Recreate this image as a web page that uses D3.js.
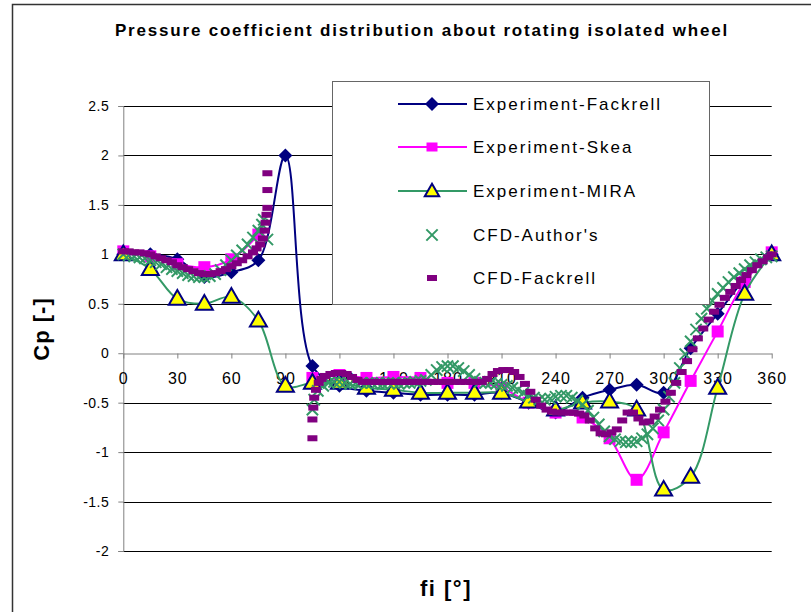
<!DOCTYPE html>
<html><head><meta charset="utf-8">
<script src="https://cdn.jsdelivr.net/npm/d3@7"></script>
<style>body{margin:0;background:#fff;} svg{display:block;font-family:"Liberation Sans",Arial,sans-serif;}</style>
</head><body>
<script>
const titleText = "Pressure coefficient distribution about rotating isolated wheel";
const xTitle = "fi [°]";
const yTitle = "Cp [-]";
const xTicks = [0,30,60,90,120,150,180,210,240,270,300,330,360];
const yTicks = [-2,-1.5,-1,-0.5,0,0.5,1,1.5,2,2.5];

const expAngles = [0,15,30,45,60,75,90,105,120,135,150,165,180,195,210,225,240,255,270,285,300,315,330,345,360];
const expFackrell = [1.0,1.0,0.95,0.77,0.82,0.94,2.0,-0.13,-0.33,-0.38,-0.4,-0.42,-0.42,-0.42,-0.4,-0.5,-0.6,-0.45,-0.37,-0.32,-0.4,0.05,0.4,0.75,1.0];
const expSkea = [1.03,0.98,0.9,0.87,0.95,1.2,null,-0.25,-0.22,-0.25,-0.24,-0.25,-0.3,-0.3,-0.35,-0.5,-0.6,-0.65,-0.86,-1.28,-0.8,-0.28,0.22,0.72,1.02];
const expMIRA = [1.0,0.85,0.55,0.5,0.57,0.33,-0.33,-0.3,-0.3,-0.35,-0.37,-0.4,-0.4,-0.4,-0.4,-0.49,-0.57,-0.5,-0.49,-0.57,-1.38,-1.25,-0.35,0.6,1.0];

const cfdAuthorAngles = [0,3,6,9,12,15,18,21,24,27,30,33,36,39,42,45,48,51,54,57,60,63,66,69,72,75,77,78,80,
 105,106,108,111,114,117,120,123,126,129,132,135,138,141,144,147,150,153,156,159,162,165,168,171,174,177,180,183,186,189,192,195,198,201,204,207,210,213,216,219,222,225,228,231,234,237,240,243,246,249,252,255,258,261,264,267,270,273,276,279,282,285,288,291,294,297,300,303,306,309,312,315,318,321,324,327,330,333,336,339,342,345,348,351,354,357,360];
const cfdAuthor = [1.0,0.99,0.98,0.97,0.96,0.94,0.92,0.9,0.87,0.85,0.83,0.81,0.79,0.78,0.77,0.77,0.78,0.8,0.84,0.89,0.94,0.99,1.04,1.1,1.17,1.24,1.3,1.35,1.15,
 -0.57,-0.47,-0.38,-0.33,-0.3,-0.29,-0.29,-0.3,-0.31,-0.3,-0.3,-0.31,-0.3,-0.3,-0.31,-0.3,-0.3,-0.31,-0.3,-0.3,-0.29,-0.28,-0.27,-0.22,-0.17,-0.14,-0.13,-0.13,-0.15,-0.18,-0.22,-0.26,-0.29,-0.3,-0.3,-0.31,-0.32,-0.33,-0.35,-0.37,-0.4,-0.43,-0.45,-0.47,-0.47,-0.46,-0.44,-0.43,-0.43,-0.45,-0.48,-0.52,-0.58,-0.65,-0.72,-0.79,-0.84,-0.87,-0.89,-0.9,-0.9,-0.89,-0.86,-0.82,-0.76,-0.68,-0.57,-0.44,-0.3,-0.15,-0.01,0.12,0.24,0.35,0.45,0.53,0.6,0.66,0.72,0.77,0.81,0.85,0.89,0.92,0.95,0.97,0.98];

const cfdFackrellAngles = [0,3,6,9,12,15,18,21,24,27,30,33,36,39,42,45,48,51,54,57,60,63,66,69,72,74,76,77.5,78.5,79,79.5,80,80,80,
 105,105,105.5,106,107,108.5,110,112,115,118,121,124,127,130,133,136,139,142,145,148,151,154,157,160,163,166,169,172,175,178,181,184,187,190,193,196,199,202,205,208,211,214,217,220,223,226,229,232,235,238,241,244,247,250,253,256,259,262,265,268,271,274,277,280,283,286,289,292,295,298,301,304,307,310,313,316,319,322,325,328,331,334,337,340,343,346,349,352,355,358,360];
const cfdFackrell = [1.03,1.03,1.02,1.02,1.01,1.0,0.98,0.96,0.94,0.92,0.89,0.87,0.85,0.83,0.81,0.8,0.8,0.81,0.83,0.85,0.88,0.91,0.94,0.98,1.02,1.06,1.1,1.16,1.24,1.32,1.4,1.47,1.65,1.82,
 -0.86,-0.67,-0.55,-0.45,-0.37,-0.3,-0.26,-0.23,-0.21,-0.2,-0.2,-0.21,-0.24,-0.27,-0.29,-0.29,-0.29,-0.29,-0.29,-0.29,-0.29,-0.29,-0.29,-0.29,-0.29,-0.29,-0.29,-0.29,-0.29,-0.29,-0.29,-0.29,-0.29,-0.29,-0.29,-0.29,-0.29,-0.26,-0.21,-0.18,-0.17,-0.17,-0.19,-0.24,-0.31,-0.39,-0.47,-0.53,-0.57,-0.59,-0.6,-0.6,-0.6,-0.6,-0.61,-0.63,-0.68,-0.76,-0.81,-0.82,-0.8,-0.77,-0.68,-0.6,-0.6,-0.66,-0.7,-0.69,-0.64,-0.57,-0.49,-0.4,-0.3,-0.19,-0.08,0.04,0.15,0.25,0.34,0.42,0.49,0.56,0.62,0.68,0.74,0.79,0.84,0.89,0.93,0.97,1.0];

const legendNames = ["Experiment-Fackrell","Experiment-Skea","Experiment-MIRA","CFD-Author's","CFD-Fackrell"];

const W = 811, H = 612;
const svg = d3.select("body").append("svg").attr("width", W).attr("height", H);
const x = d3.scaleLinear().domain([0,360]).range([123.3,771.7]);
const y = d3.scaleLinear().domain([-2,2.5]).range([551,106]);

// outer frame
svg.append("path").attr("d", `M12.5,${H} L12.5,4.5 L${W},4.5`).attr("fill","none").attr("stroke","#333").attr("stroke-width",1.5);

// title
svg.append("text").attr("x",422).attr("y",36).attr("text-anchor","middle")
  .attr("font-size",17).attr("font-weight","bold").attr("letter-spacing",1.8).text(titleText);

// gridlines
svg.append("g").selectAll("line").data(yTicks.filter(d=>d!==0)).join("line")
  .attr("x1",x(0)).attr("x2",x(360)).attr("y1",d=>Math.round(y(d))+0.5).attr("y2",d=>Math.round(y(d))+0.5)
  .attr("stroke","#000").attr("stroke-width",1);

// y axis
const yAxis = d3.axisLeft(y).tickValues(yTicks).tickSize(5).tickPadding(9).tickFormat(d=>d);
const gy = svg.append("g").attr("transform",`translate(${x(0)},0)`).call(yAxis);
gy.select(".domain").attr("stroke","#808080");
gy.selectAll(".tick line").attr("stroke","#808080");
gy.selectAll("text").attr("font-size",14).attr("letter-spacing",0.5).attr("font-family","'Liberation Sans',Arial,sans-serif").attr("fill","#000");

// x axis at y=0
const xAxis = d3.axisBottom(x).tickValues(xTicks).tickSize(5).tickPadding(14).tickSizeOuter(0);
const gx = svg.append("g").attr("transform",`translate(0,${Math.round(y(0))+0.5})`).call(xAxis);
gx.select(".domain").attr("stroke","#808080");
gx.selectAll(".tick line").attr("stroke","#808080");
gx.selectAll("text").attr("font-size",16).attr("letter-spacing",1).attr("font-family","'Liberation Sans',Arial,sans-serif").attr("fill","#000");

// axis titles
svg.append("text").attr("x",446).attr("y",596).attr("text-anchor","middle").attr("font-size",22).attr("font-weight","bold").attr("letter-spacing",1.5).text(xTitle);
svg.append("text").attr("transform","translate(49,329) rotate(-90)").attr("text-anchor","middle").attr("font-size",22).attr("font-weight","bold").attr("letter-spacing",1).text(yTitle);

const smooth = d3.line().defined(d=>d[1]!==null).x(d=>x(d[0])).y(d=>y(d[1])).curve(d3.curveCatmullRom.alpha(0.5));
const plot = svg.append("g");

const diamondPath = "M0,-7L7,0L0,7L-7,0Z";
const squarePath = "M-6,-6H6V6H-6Z";
const tri = d3.symbol().type(d3.symbolTriangle).size(125);

function drawSeries(g, ang, vals, color, markerFn){
  const pts = ang.map((a,i)=>[a, vals[i]]);
  g.append("path").attr("d", smooth(pts)).attr("fill","none").attr("stroke",color).attr("stroke-width",2);
  g.selectAll(null).data(pts.filter(d=>d[1]!==null)).join("path")
    .attr("transform",d=>`translate(${x(d[0])},${y(d[1])})`).each(function(){ markerFn(d3.select(this)); });
}
drawSeries(plot, expAngles, expFackrell, "#000080", s=>s.attr("d",diamondPath).attr("fill","#000080"));
drawSeries(plot, expAngles, expSkea, "#FF00FF", s=>s.attr("d",squarePath).attr("fill","#FF00FF"));
drawSeries(plot, expAngles, expMIRA, "#339966", s=>s.attr("d",tri).attr("transform",function(){return d3.select(this).attr("transform")+" translate(0,1)";}).attr("fill","#FFFF00").attr("stroke","#000080").attr("stroke-width",2));

// CFD Author's : X markers
const xm = d3.symbol().type(d3.symbolX).size(85);
plot.append("g").selectAll("path").data(cfdAuthorAngles.map((a,i)=>[a,cfdAuthor[i]])).join("path")
  .attr("d", xm).attr("transform",d=>`translate(${x(d[0])},${y(d[1])})`)
  .attr("fill","none").attr("stroke","#339966").attr("stroke-width",2);

// CFD Fackrell : dash markers
plot.append("g").selectAll("rect").data(cfdFackrellAngles.map((a,i)=>[a,cfdFackrell[i]])).join("rect")
  .attr("x",d=>x(d[0])-5).attr("y",d=>y(d[1])-3).attr("width",10).attr("height",6).attr("fill","#800080");

// legend
const lg = svg.append("g");
lg.append("rect").attr("x",332.5).attr("y",81.5).attr("width",377).attr("height",223).attr("fill","#fff").attr("stroke","#666").attr("stroke-width",1);
const rowsY = [104,147,191,235,278];
const lx1 = 398, lx2 = 467, lmx = 432;
lg.append("line").attr("x1",lx1).attr("x2",lx2).attr("y1",rowsY[0]).attr("y2",rowsY[0]).attr("stroke","#000080").attr("stroke-width",2);
lg.append("path").attr("d",diamondPath).attr("transform",`translate(${lmx},${rowsY[0]})`).attr("fill","#000080");
lg.append("line").attr("x1",lx1).attr("x2",lx2).attr("y1",rowsY[1]).attr("y2",rowsY[1]).attr("stroke","#FF00FF").attr("stroke-width",2);
lg.append("rect").attr("x",lmx-5.5).attr("y",rowsY[1]-4.5).attr("width",11).attr("height",9).attr("fill","#FF00FF");
lg.append("line").attr("x1",lx1).attr("x2",lx2).attr("y1",rowsY[2]).attr("y2",rowsY[2]).attr("stroke","#339966").attr("stroke-width",2);
lg.append("path").attr("d",d3.symbol().type(d3.symbolTriangle).size(90)).attr("transform",`translate(${lmx},${rowsY[2]+1})`).attr("fill","#FFFF00").attr("stroke","#000080").attr("stroke-width",2);
lg.append("path").attr("d",xm).attr("transform",`translate(${lmx},${rowsY[3]})`).attr("fill","none").attr("stroke","#339966").attr("stroke-width",2);
lg.append("rect").attr("x",lmx-5).attr("y",rowsY[4]-3).attr("width",10).attr("height",6).attr("fill","#800080");
lg.selectAll("text").data(legendNames).join("text").attr("x",473).attr("y",(d,i)=>rowsY[i]+6)
  .attr("font-size",17).attr("letter-spacing",2).text(d=>d);
</script>
</body></html>
